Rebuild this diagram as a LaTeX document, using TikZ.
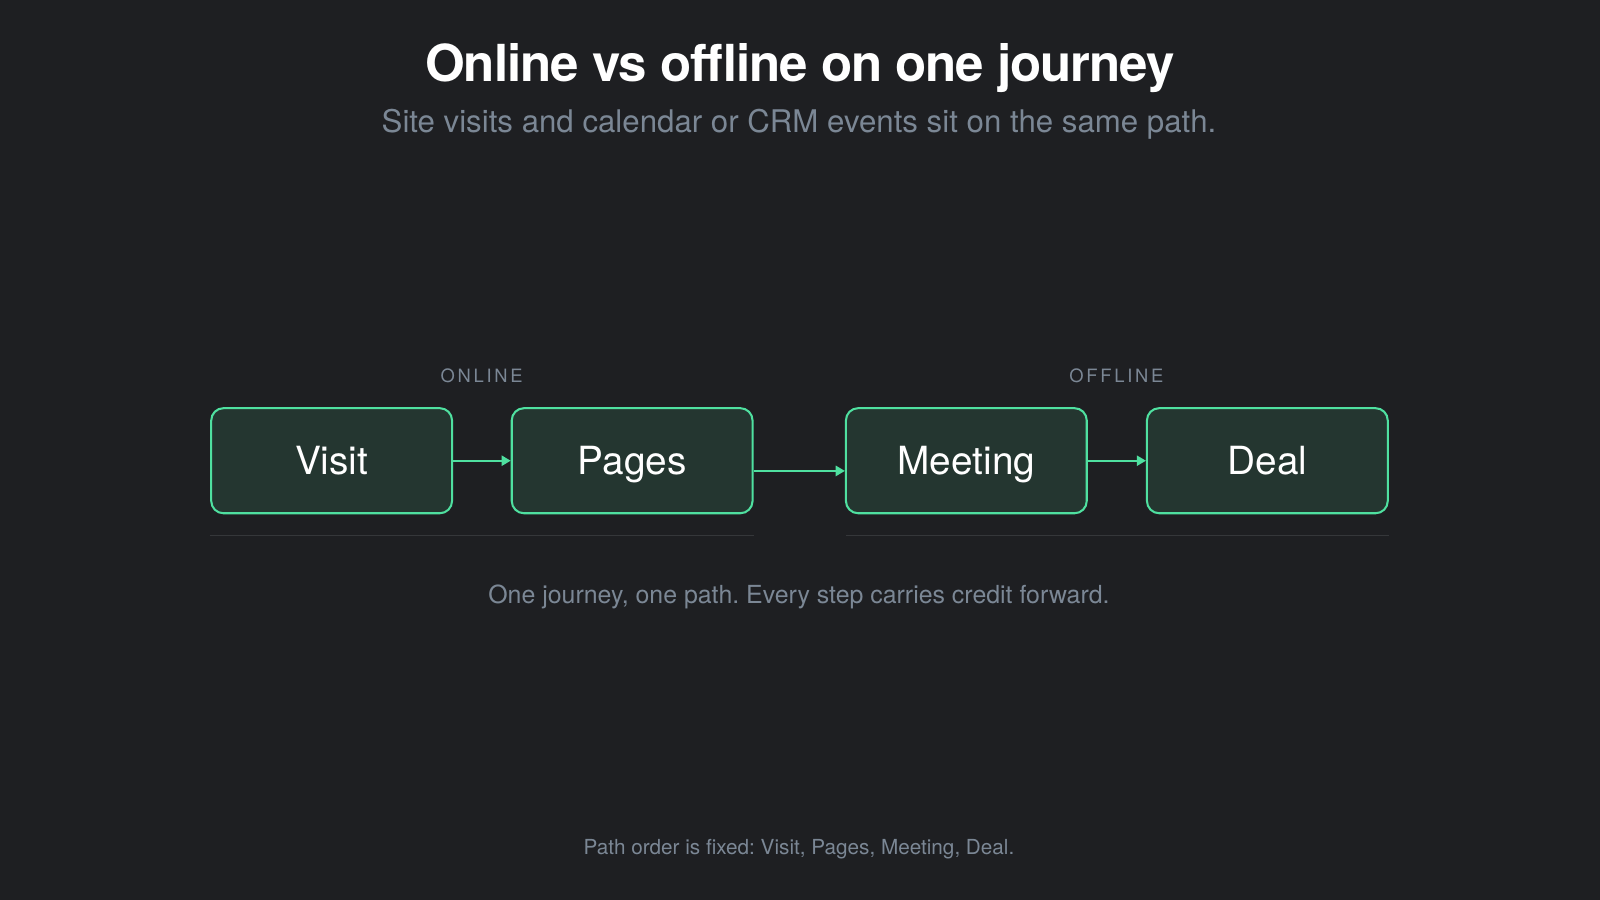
\documentclass[tikz,border=0pt]{standalone}
\usepackage{fontspec}
\setmainfont{TeX Gyre Heros}
\newfontfamily\labelfont[LetterSpace=15]{TeX Gyre Heros}
\newfontfamily\titlefont[LetterSpace=-2]{TeX Gyre Heros}
\usetikzlibrary{arrows.meta,calc}
\definecolor{bg}{HTML}{1E1F22}
\definecolor{boxfill}{HTML}{243630}
\definecolor{mint}{HTML}{4FE0A0}
\definecolor{muted}{HTML}{7B8795}
\definecolor{rule}{HTML}{35373A}
\frenchspacing
\tikzset{
  stepbox/.style={draw=mint, line width=1pt, fill=boxfill, rounded corners=6pt,
    minimum width=118pt, minimum height=51.5pt, inner sep=0pt,
    text height=13.7pt, text depth=0pt,
    text=white, font=\fontsize{19}{21}\selectfont},
  arr/.style={draw=mint, line width=1pt, -{Triangle[length=4.5pt,width=5pt]}},
  sep/.style={draw=rule, line width=0.6pt},
  grouplabel/.style={text=muted, anchor=base, inner sep=0pt, font=\labelfont\fontsize{9}{10}\selectfont},
  txt/.style={anchor=base, inner sep=0pt},
}
\begin{document}
\frenchspacing
\begin{tikzpicture}[x=0.5pt,y=-0.5pt]
\useasboundingbox (0,0) rectangle (1568,882);
\fill[bg] (0,0) rectangle (1568,882);
\node[txt, text=white, font=\titlefont\bfseries\fontsize{25}{28}\selectfont] (title) at (784,80) {Online vs offline on one journey};
\node[txt, text=muted, font=\fontsize{15.3}{18}\selectfont] (subtitle) at (783,130) {Site visits and calendar or CRM events sit on the same path.};
\node[grouplabel] (online) at (472,375) {ONLINE};
\node[grouplabel] (offline) at (1094,375) {OFFLINE};
\node[stepbox] (visit) at (325,451.5) {Visit};
\node[stepbox] (pages) at (619.5,451.5) {Pages};
\node[stepbox] (meeting) at (947,451.5) {Meeting};
\node[stepbox] (deal) at (1242,451.5) {Deal};
\draw[arr] (visit.east) -- (pages.west);
\draw[arr] ([yshift=-5pt]pages.east) -- ([yshift=-5pt]meeting.west);
\draw[arr] (meeting.east) -- (deal.west);
\coordinate (s1a) at (206,525);
\coordinate (s1b) at (739,525);
\coordinate (s2a) at (829,525);
\coordinate (s2b) at (1361,525);
\draw[sep] (s1a) -- (s1b);
\draw[sep] (s2a) -- (s2b);
\node[txt, text=muted, font=\fontsize{12.2}{14}\selectfont] (caption) at (783,591) {One journey, one path. Every step carries credit forward.};
\node[txt, text=muted, font=\fontsize{10.15}{12}\selectfont] (footer) at (783,837) {Path order is fixed: Visit, Pages, Meeting, Deal.};
\end{tikzpicture}
\end{document}
